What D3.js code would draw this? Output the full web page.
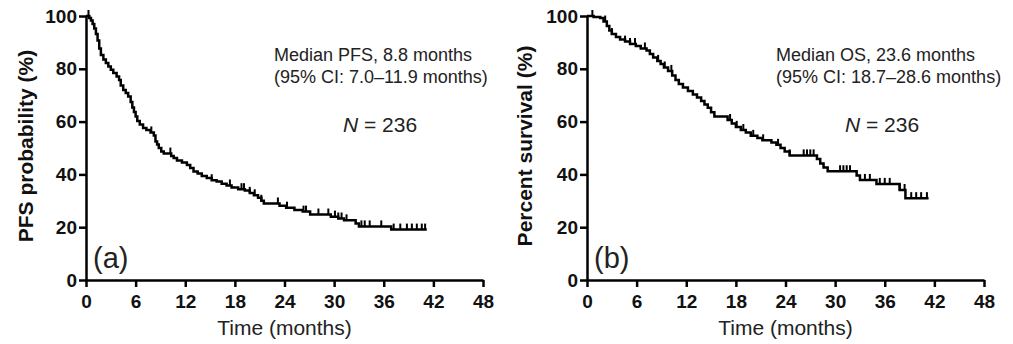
<!DOCTYPE html>
<html>
<head>
<meta charset="utf-8">
<script src="https://cdn.jsdelivr.net/npm/d3@7"></script>
<style>
  body { margin: 0; background: #fff; }
  svg text { font-family: Arial, "Liberation Sans", sans-serif; }
</style>
</head>
<body>
<svg id="chart" width="1013" height="344"></svg>
<script>
// axis ticks
const xTicks = [0, 6, 12, 18, 24, 30, 36, 42, 48];
const yTicks = [0, 20, 40, 60, 80, 100];

// PFS steps (month, percent)
const pfsTimes = [0, 0.4, 0.6, 0.8, 1.0, 1.2, 1.4, 1.6, 1.8, 2.1, 2.4, 2.7, 3.0, 3.3, 3.7, 4.0, 4.2, 4.5, 4.8, 5.1,
    5.4, 5.6, 5.8, 6.0, 6.2, 6.5, 6.9, 7.3, 7.8, 8.2, 8.4, 8.6, 8.8, 9.1, 9.4, 10.3, 10.6, 11.0, 11.6, 12.2,
    12.6, 13.0, 13.5, 14.0, 14.6, 15.2, 15.8, 16.4, 17.0, 17.6, 18.4, 19.2, 19.8, 20.3, 20.8, 21.2, 21.5, 23.4,
    24.2, 25.2, 26.2, 27.1, 29.6, 30.5, 31.2, 32.6, 33.0, 36.9, 41.2];
const pfsValues = [100, 99.2, 98.3, 97.0, 95.3, 93.2, 90.7, 87.7, 85.2, 83.5, 82.2, 80.9, 79.6, 78.4, 77.1, 75.8, 73.7, 72.0, 70.8, 69.5,
    67.4, 65.3, 63.6, 61.9, 60.2, 58.9, 57.6, 56.8, 55.9, 54.7, 52.5, 51.3, 50.0, 48.7, 47.9, 47.0, 46.2, 45.3, 44.5, 43.6,
    42.4, 41.1, 40.3, 39.4, 38.6, 37.8, 37.3, 36.5, 35.8, 35.0, 34.4, 33.9, 33.0, 32.1, 31.2, 30.0, 29.0, 28.1,
    27.4, 26.5, 25.9, 24.8, 24.0, 23.3, 22.6, 21.4, 20.3, 19.1, 19.1];
const pfsCensored = [0.3, 7.9, 10.2, 15.2, 17.4, 18.8, 19.1, 19.8, 20.4, 21.2, 23.2, 24.3, 26.3, 26.6, 28.1, 29.3,
    30.1, 30.5, 30.9, 31.5, 33.3, 33.7, 34.3, 35.7, 37.2, 38.0, 38.8, 39.4, 40.0, 40.6, 41.0];

// OS steps (month, percent)
const osTimes = [0, 0.8, 1.6, 2.0, 2.4, 2.7, 3.0, 3.5, 4.0, 4.6, 5.2, 5.9, 6.5, 7.2, 7.6, 8.0, 8.5, 8.9, 9.3, 9.8,
    10.3, 10.7, 11.1, 11.6, 12.2, 12.8, 13.3, 13.8, 14.2, 14.6, 15.0, 15.4, 17.0, 17.5, 18.0, 18.6, 19.2, 19.8,
    20.6, 21.2, 22.3, 22.9, 23.4, 23.9, 24.5, 27.8, 28.2, 28.6, 29.1, 32.6, 33.0, 35.0, 37.8, 38.5, 41.3];
const osValues = [100, 99.6, 99.2, 97.9, 96.2, 94.5, 93.2, 92.0, 91.1, 90.3, 89.4, 88.6, 87.7, 86.9, 85.6, 84.3, 83.0, 81.8, 80.5, 79.2,
    77.5, 75.8, 74.2, 72.9, 71.6, 70.3, 69.1, 67.8, 66.5, 65.2, 63.5, 61.9, 60.6, 59.3, 58.0, 56.8, 55.9, 54.6,
    53.8, 52.9, 52.1, 51.2, 50.0, 48.7, 47.2, 45.8, 44.1, 42.6, 41.2, 39.6, 37.9, 36.4, 34.1, 31.0, 31.0];
const osCensored = [0.65, 2.2, 3.0, 4.6, 5.2, 5.8, 7.0, 8.6, 9.4, 10.2, 17.3, 18.1, 18.9, 20.1, 21.3, 23.1, 24.5,
    26.2, 26.6, 27.0, 27.4, 30.6, 31.0, 31.4, 31.8, 33.6, 34.2, 35.4, 36.0, 36.6, 37.8, 38.4, 39.2, 39.8, 40.4, 41.1];

const svg = d3.select("#chart");

function drawPanel(opts) {
    const x = d3.scaleLinear().domain([0, 48]).range([opts.x0, opts.x1]);
    const y = d3.scaleLinear().domain([0, 100]).range([280, 16]);
    const g = svg.append("g");

    // axes
    const xAxis = g.append("g")
        .attr("transform", "translate(0,280)")
        .call(d3.axisBottom(x).tickValues(xTicks).tickSize(7).tickPadding(3).tickSizeOuter(0));
    const yAxis = g.append("g")
        .attr("transform", `translate(${opts.x0},0)`)
        .call(d3.axisLeft(y).tickValues(yTicks).tickSize(7).tickPadding(2).tickSizeOuter(0));
    [xAxis, yAxis].forEach(a => {
        a.select(".domain").attr("stroke", "#000").attr("stroke-width", 2.5);
        a.selectAll(".tick line").attr("stroke", "#000").attr("stroke-width", 2.5);
        a.selectAll(".tick text")
            .attr("fill", "#111")
            .style("font-size", "19px")
            .style("font-weight", "bold");
    });
    xAxis.selectAll(".tick text").attr("dy", "0.95em");

    // KM curve
    const pts = opts.times.map((t, i) => [t, opts.values[i]]);
    g.append("path")
        .datum(pts)
        .attr("fill", "none")
        .attr("stroke", "#000")
        .attr("stroke-width", 2.5)
        .attr("d", d3.line().x(d => x(d[0])).y(d => y(d[1])).curve(d3.curveStepAfter));

    // censor marks
    const bis = d3.bisector(d => d).right;
    g.append("g").selectAll("line")
        .data(opts.censored)
        .enter().append("line")
        .attr("x1", d => x(d))
        .attr("x2", d => x(d))
        .attr("y1", d => y(opts.values[Math.max(0, bis(opts.times, d) - 1)]))
        .attr("y2", d => y(opts.values[Math.max(0, bis(opts.times, d) - 1)]) - 6)
        .attr("stroke", "#000")
        .attr("stroke-width", 2);

    // axis titles
    g.append("text")
        .attr("transform", `translate(${opts.yLabelX},146) rotate(-90)`)
        .attr("text-anchor", "middle")
        .attr("dy", "0.35em")
        .style("font-size", "21px")
        .style("font-weight", "bold")
        .attr("fill", "#111")
        .text(opts.yLabel);
    g.append("text")
        .attr("x", (opts.x0 + opts.x1) / 2)
        .attr("y", 335)
        .attr("text-anchor", "middle")
        .style("font-size", "21px")
        .attr("fill", "#222")
        .text("Time (months)");

    // annotations
    g.append("text")
        .attr("x", opts.noteX).attr("y", 61)
        .style("font-size", "18px")
        .attr("fill", "#222")
        .text(opts.note1);
    g.append("text")
        .attr("x", opts.noteX).attr("y", 83)
        .style("font-size", "18px")
        .attr("fill", "#222")
        .text(opts.note2);

    const n = g.append("text")
        .attr("x", opts.nX).attr("y", 132)
        .style("font-size", "21px")
        .attr("fill", "#222");
    n.append("tspan").style("font-style", "italic").text("N");
    n.append("tspan").text(" = 236");

    g.append("text")
        .attr("x", opts.x0 + 7).attr("y", 268)
        .style("font-size", "29px")
        .attr("fill", "#222")
        .text(opts.tag);
}

drawPanel({
    x0: 86, x1: 483,
    times: pfsTimes, values: pfsValues, censored: pfsCensored,
    yLabel: "PFS probability (%)", yLabelX: 26,
    note1: "Median PFS, 8.8 months",
    note2: "(95% CI: 7.0\u201311.9 months)",
    noteX: 274, nX: 343, tag: "(a)"
});

drawPanel({
    x0: 587, x1: 984,
    times: osTimes, values: osValues, censored: osCensored,
    yLabel: "Percent survival (%)", yLabelX: 525,
    note1: "Median OS, 23.6 months",
    note2: "(95% CI: 18.7\u201328.6 months)",
    noteX: 776, nX: 845, tag: "(b)"
});
</script>
</body>
</html>
